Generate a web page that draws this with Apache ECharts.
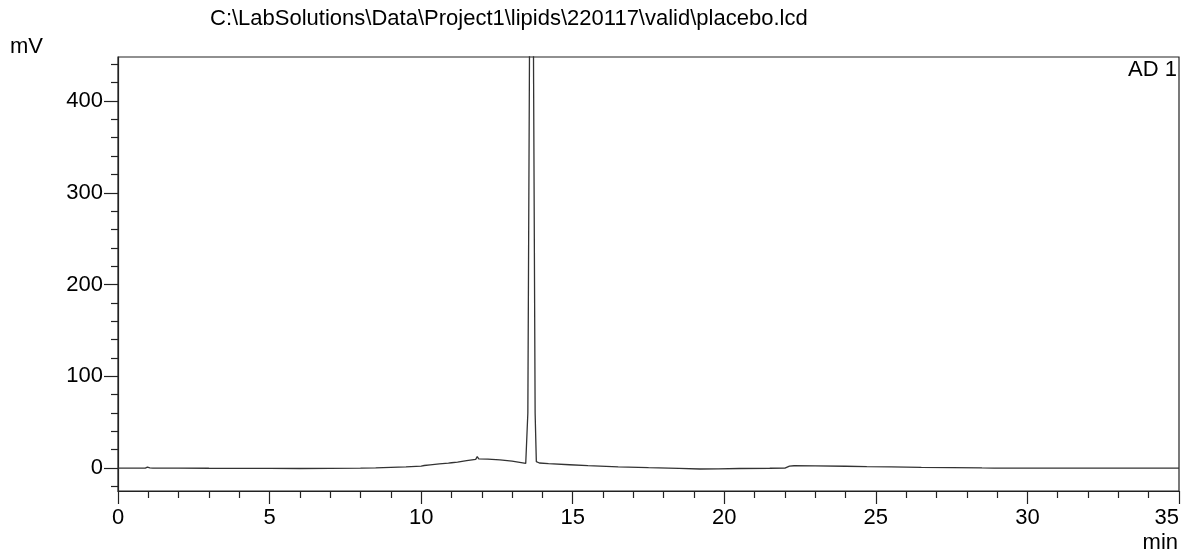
<!DOCTYPE html>
<html>
<head>
<meta charset="utf-8">
<script src="https://cdn.jsdelivr.net/npm/echarts@6/dist/echarts.min.js"></script>
<style>html,body{margin:0;padding:0;background:#fff}#c{width:1185px;height:552px}</style>
</head>
<body>
<div id="c"></div>
<script>
const titleText = 'C:\\LabSolutions\\Data\\Project1\\lipids\\220117\\valid\\placebo.lcd';
const channelLabel = 'AD 1';
const xUnit = 'min';
const yUnit = 'mV';
const xTicks = [0, 5, 10, 15, 20, 25, 30, 35];
const yTicks = [0, 100, 200, 300, 400];
const yMinorTicks = [-20, 20, 40, 60, 80, 120, 140, 160, 180, 220, 240, 260, 280, 320, 340, 360, 380, 420, 440];
const times = [0, 0.9, 0.97, 1.0, 1.05, 1.15, 2, 3, 4, 5, 6, 7, 8, 8.5, 9, 9.5, 10.0, 10.1, 10.3, 10.6, 10.9, 10.95, 11.0, 11.2, 11.5, 11.8, 11.85, 11.9, 12.2, 12.6, 13.0, 13.3, 13.45, 13.52, 13.57, 13.64, 13.71, 13.76, 13.80, 13.9, 14.2, 14.9, 15.5, 16.5, 17.5, 18.5, 19.2, 19.8, 20.5, 21.5, 22.0, 22.15, 22.3, 23, 24, 24.7, 25.5, 26.5, 27.5, 28.5, 28.9, 30, 35];
const signal = [0, 0, 1, 0.8, 0.3, 0, 0, -0.2, -0.3, -0.4, -0.5, -0.3, 0, 0.3, 0.8, 1.3, 2.2, 2.8, 3.5, 4.5, 5.3, 7, 5.8, 6.5, 8, 9.5, 12.5, 10, 9.8, 9, 7.5, 6, 5, 60, 420, 1000, 420, 60, 7, 5.5, 4.8, 3.6, 2.6, 1.2, 0.4, -0.3, -1, -0.9, -0.5, -0.2, 0, 2.2, 2.5, 2.3, 2, 1.5, 1.2, 0.8, 0.5, 0.1, 0, 0, 0];

const data = times.map((t, i) => [t, signal[i]]);
const FONT = "'Liberation Sans', Arial, sans-serif";
const chart = echarts.init(document.getElementById('c'), null, {renderer: 'canvas'});
const yMin = -25, yMax = 448;
chart.setOption({
  animation: false,
  backgroundColor: '#fff',
  grid: {left: 118, right: 6, top: 57, bottom: 61, show: true, borderColor: '#222', borderWidth: 1.2, backgroundColor: 'transparent', containLabel: false, outerBoundsMode: 'none'},
  xAxis: {
    type: 'value', min: 0, max: 35, interval: 5,
    axisLine: {show: true, onZero: false, lineStyle: {color: '#222', width: 1.2}},
    axisTick: {show: true, inside: false, length: 13, lineStyle: {color: '#222', width: 1.2}},
    minorTick: {show: true, splitNumber: 5, length: 7, lineStyle: {color: '#222', width: 1.2}},
    axisLabel: {color: '#000', fontSize: 22, fontFamily: FONT, margin: 16, showMinLabel: true, showMaxLabel: true, hideOverlap: false, alignMaxLabel: 'right'},
    splitLine: {show: false}
  },
  yAxis: [{
    type: 'value', min: yMin, max: yMax,
    axisLine: {show: true, onZero: false, lineStyle: {color: '#222', width: 1.2}},
    axisTick: {show: true, inside: false, length: 14, customValues: yTicks, lineStyle: {color: '#222', width: 1.2}},
    axisLabel: {color: '#000', fontSize: 22, fontFamily: FONT, margin: 15, customValues: yTicks},
    splitLine: {show: false}
  }, {
    type: 'value', min: yMin, max: yMax, position: 'left',
    axisLine: {show: false, onZero: false},
    axisTick: {show: true, inside: false, length: 7, customValues: yMinorTicks, lineStyle: {color: '#222', width: 1.2}},
    axisLabel: {show: false},
    splitLine: {show: false}
  }],
  series: [{
    type: 'line', data: data, yAxisIndex: 0, showSymbol: false, clip: true,
    lineStyle: {color: '#333', width: 1.3}
  }],
  graphic: [
    {type: 'text', left: 210, top: 8, style: {text: titleText, fontSize: 22, fontFamily: FONT, fill: '#000'}},
    {type: 'text', left: 10, top: 36, style: {text: yUnit, fontSize: 22, fontFamily: FONT, fill: '#000'}},
    {type: 'text', right: 8, top: 59, style: {text: channelLabel, fontSize: 22, fontFamily: FONT, fill: '#000'}},
    {type: 'text', right: 7, top: 532, style: {text: xUnit, fontSize: 22, fontFamily: FONT, fill: '#000'}}
  ]
});
</script>
</body>
</html>
